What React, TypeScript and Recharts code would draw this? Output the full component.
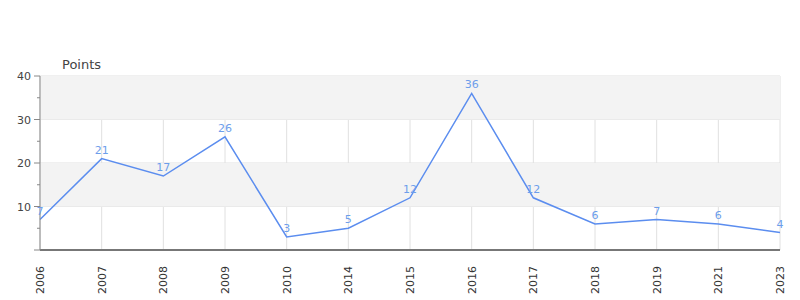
import React from 'react';
import {
  LineChart,
  Line,
  XAxis,
  YAxis,
  CartesianGrid,
  ReferenceArea,
  ReferenceLine,
  LabelList,
} from 'recharts';

const years = ['2006', '2007', '2008', '2009', '2010', '2014', '2015', '2016', '2017', '2018', '2019', '2021', '2023'];
const points = [7, 21, 17, 26, 3, 5, 12, 36, 12, 6, 7, 6, 4];
const yTicks = [0, 5, 10, 15, 20, 25, 30, 35, 40];

const data = years.map((year, i) => ({ year, points: points[i] }));

const FONT = '"DejaVu Sans", Verdana, sans-serif';

// y ticks: long marks + labels on the tens, short marks on the fives, no "0" label
function YTick(props: any) {
  const { x, y, payload } = props;
  const v = payload.value;
  const major = v % 10 === 0;
  return (
    <g>
      <line x1={x - (major ? 6 : 3)} x2={x} y1={y} y2={y} stroke="#888" />
      {major && v !== 0 && (
        <text x={x - 9} y={y} dy={4} textAnchor="end" fontSize={11} fill="#444" fontFamily={FONT}>
          {v}
        </text>
      )}
    </g>
  );
}

function XTick(props: any) {
  const { x, y, payload } = props;
  return (
    <text
      x={x}
      y={y + 8}
      dy={4}
      textAnchor="end"
      transform={`rotate(-90, ${x}, ${y + 8})`}
      fontSize={11}
      fill="#333"
      fontFamily={FONT}
    >
      {payload.value}
    </text>
  );
}

export default function App() {
  return (
    <div style={{ position: 'absolute', left: 0, top: 0, width: 800, height: 300, background: '#fff' }}>
      <div
        style={{
          position: 'absolute',
          left: 62,
          top: 57,
          fontSize: 13,
          color: '#444',
          fontFamily: FONT,
        }}
      >
        Points
      </div>
      <LineChart width={800} height={300} data={data} margin={{ top: 76, right: 20, left: 0, bottom: 0 }}>
        <ReferenceArea y1={10} y2={20} fill="#f3f3f3" fillOpacity={1} stroke="none" />
        <ReferenceArea y1={30} y2={40} fill="#f3f3f3" fillOpacity={1} stroke="none" />
        <CartesianGrid stroke="#e0e0e0" horizontalValues={[10, 20, 30, 40]} />
        <XAxis
          dataKey="year"
          height={50}
          padding={{ left: 0, right: 0 }}
          tickLine={false}
          axisLine={{ stroke: '#777', strokeWidth: 2 }}
          tick={<XTick />}
          interval={0}
        />
        <YAxis
          width={40}
          domain={[0, 40]}
          ticks={yTicks}
          interval={0}
          tickSize={0}
          tickMargin={0}
          tickLine={false}
          axisLine={{ stroke: '#888' }}
          tick={<YTick />}
        />
        <ReferenceLine y={0} stroke="#cc0000" strokeWidth={1} />
        <Line
          type="linear"
          dataKey="points"
          stroke="#5b8def"
          strokeWidth={1.5}
          dot={false}
          isAnimationActive={false}
        >
          <LabelList
            dataKey="points"
            position="top"
            offset={5}
            fill="#6d9eeb"
            fontSize={11}
            fontFamily={FONT}
          />
        </Line>
      </LineChart>
    </div>
  );
}
